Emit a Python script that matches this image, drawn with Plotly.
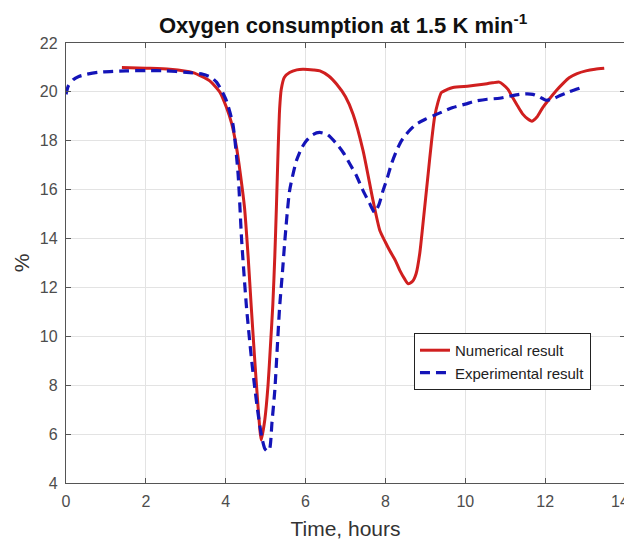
import plotly.graph_objects as go

# Numerical result (red solid)
num_t = [1.4, 2.0, 2.6, 3.18, 3.6, 3.85, 4.02, 4.15, 4.27, 4.37, 4.47, 4.56, 4.64, 4.72, 4.81, 4.89,
         4.98, 5.06, 5.12, 5.18, 5.23, 5.27, 5.31, 5.35, 5.39, 5.47, 5.6, 5.78, 5.93, 6.2, 6.36, 6.58,
         6.78, 7.0, 7.19, 7.44, 7.69, 7.86, 8.0, 8.11, 8.25, 8.36, 8.48, 8.57, 8.68, 8.77, 8.86, 8.94,
         9.07, 9.15, 9.23, 9.32, 9.4, 9.55, 9.69, 10.1, 10.4, 10.68, 10.85, 10.94, 11.07, 11.19, 11.32,
         11.44, 11.56, 11.67, 11.8, 11.94, 12.1, 12.27, 12.45, 12.6, 12.8, 13.02, 13.25, 13.48]
num_v = [21.0, 20.97, 20.93, 20.79, 20.45, 20.0, 19.36, 18.7, 17.73, 16.6, 15.28, 13.3, 11.2, 9.2, 7.11, 5.76,
         6.6, 8.0, 9.6, 11.3, 13.3, 15.3, 17.5, 19.3, 20.1, 20.6, 20.79, 20.9, 20.93, 20.9, 20.86, 20.65,
         20.31, 19.8, 19.09, 17.6, 15.55, 14.33, 13.85, 13.5, 13.1, 12.7, 12.35, 12.15, 12.25, 12.57, 13.4, 14.6,
         16.65, 17.9, 18.95, 19.6, 19.97, 20.1, 20.18, 20.24, 20.3, 20.37, 20.4, 20.31, 20.1, 19.76, 19.4,
         19.09, 18.9, 18.8, 18.98, 19.36, 19.7, 20.04, 20.35, 20.58, 20.75, 20.86, 20.93, 20.97]

# Experimental result (blue dashed)
exp_t = [0.0, 0.06, 0.18, 0.32, 0.52, 0.8, 1.1, 1.5, 2.0, 2.5, 3.02, 3.43, 3.63, 3.77, 3.9, 4.02, 4.18,
         4.31, 4.4, 4.52, 4.64, 4.72, 4.81, 4.9, 4.98, 5.04, 5.1, 5.16, 5.23, 5.29, 5.35, 5.42, 5.48, 5.6,
         5.77, 5.9, 6.02, 6.18, 6.35, 6.55, 6.78, 6.95, 7.11, 7.28, 7.44, 7.6, 7.73, 7.84, 7.94, 8.05, 8.15,
         8.28, 8.4, 8.58, 8.77, 9.0, 9.19, 9.45, 9.69, 10.0, 10.27, 10.55, 10.86, 11.1, 11.36, 11.55, 11.69,
         11.85, 12.02, 12.2, 12.36, 12.6, 12.86]
exp_v = [19.9, 20.25, 20.5, 20.63, 20.72, 20.8, 20.83, 20.86, 20.87, 20.86, 20.8, 20.72, 20.6, 20.4, 20.05, 19.63, 18.68,
         16.64, 13.9, 11.2, 9.16, 8.0, 6.84, 5.9, 5.4, 5.3, 5.4, 6.5, 7.8, 9.5, 11.2, 12.6, 13.9, 15.96,
         17.18, 17.7, 18.0, 18.25, 18.34, 18.25, 17.87, 17.5, 17.05, 16.55, 15.96, 15.45, 15.07, 15.4, 15.96, 16.5, 17.05,
         17.6, 18.0, 18.38, 18.68, 18.88, 19.02, 19.2, 19.36, 19.5, 19.63, 19.7, 19.74, 19.82, 19.9, 19.92, 19.9,
         19.8, 19.66, 19.72, 19.84, 20.0, 20.15]

x_ticks = [0, 2, 4, 6, 8, 10, 12, 14]
x_tick_labels = ["0", "2", "4", "6", "8", "10", "12", "14"]
y_ticks = [4, 6, 8, 10, 12, 14, 16, 18, 20, 22]

FONT = "Liberation Sans, Arial, sans-serif"
TICKFONT = dict(family=FONT, size=16, color="#4d4d4d")

fig = go.Figure()
fig.add_trace(go.Scatter(x=num_t, y=num_v, mode="lines", name="Numerical result",
                         line=dict(color="#d01f1f", width=3, shape="spline", smoothing=0.6)))
fig.add_trace(go.Scatter(x=exp_t, y=exp_v, mode="lines", name="Experimental result",
                         line=dict(color="#1414b8", width=3.2, dash="10px,6px", shape="spline", smoothing=0.6)))

axis_common = dict(showgrid=True, gridcolor="#e3e3e3", gridwidth=1, zeroline=False,
                   showline=True, linecolor="#555555", linewidth=1.3, mirror="ticks",
                   ticks="inside", ticklen=5, tickcolor="#555555", automargin=False,
                   tickfont=TICKFONT)

# last x tick label sits at the right edge: draw it slightly inward so it is not clipped
shown_x_labels = x_tick_labels[:-1] + [""]

# the page body adds an 8 px offset; figure is sized/margined to compensate
fig.update_layout(
    width=624, height=532,
    margin=dict(l=58, r=7, t=35, b=57),
    paper_bgcolor="white", plot_bgcolor="white",
    title=dict(text="<b>Oxygen consumption at 1.5 K min<sup>-1</sup></b>",
               x=0.537, xanchor="center", y=0.967, yanchor="middle",
               font=dict(family=FONT, size=22, color="#111111")),
    xaxis=dict(range=[0, 14], tickvals=x_ticks, ticktext=shown_x_labels, ticklabelstandoff=4,
               title=dict(text="Time, hours", standoff=11,
                          font=dict(family=FONT, size=21, color="#333333")),
               **axis_common),
    yaxis=dict(range=[4, 22], tickvals=y_ticks, ticklabelstandoff=4,
               title=dict(text="%", standoff=4,
                          font=dict(family=FONT, size=21, color="#333333")),
               **axis_common),
    legend=dict(x=0.6225, y=0.341, xanchor="left", yanchor="top",
                bgcolor="white", bordercolor="#222222", borderwidth=1,
                font=dict(family=FONT, size=15, color="#222222"),
                tracegroupgap=0),
    showlegend=True,
)

fig.add_annotation(x=x_ticks[-1], xref="x", y=0, yref="paper", text=x_tick_labels[-1],
                   showarrow=False, xanchor="center", yanchor="middle", xshift=-5, yshift=-18,
                   font=TICKFONT)

fig.write_html("out.html")
